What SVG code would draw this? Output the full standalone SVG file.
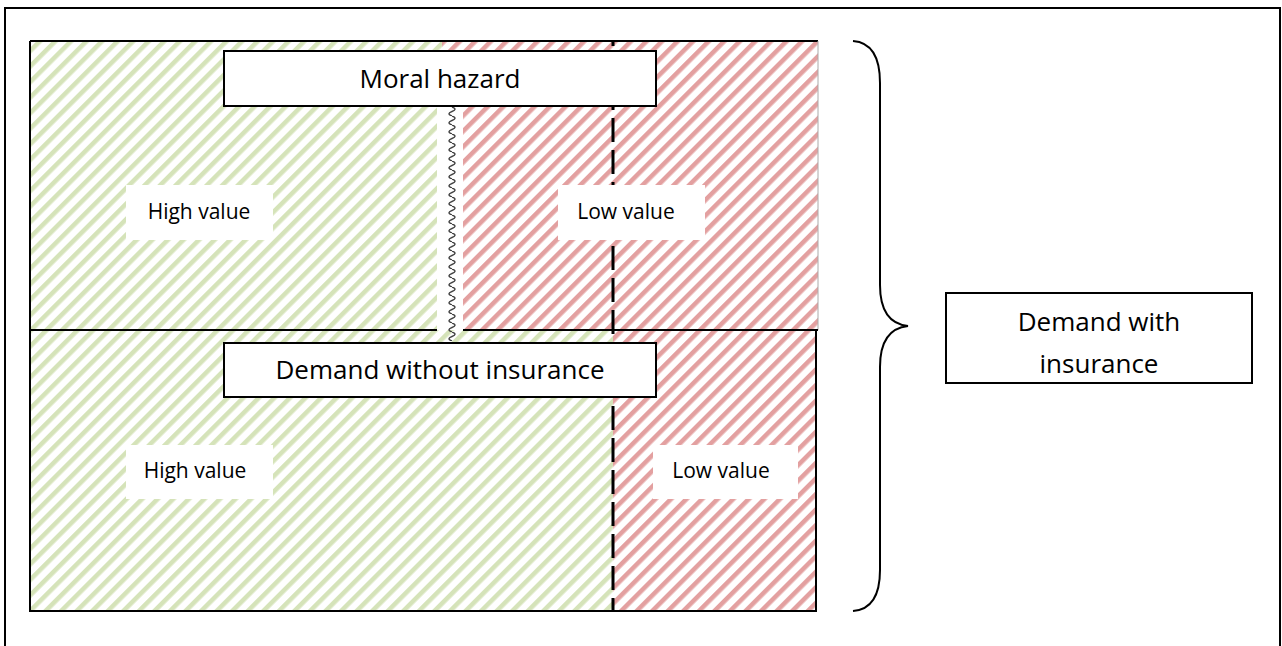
<svg xmlns="http://www.w3.org/2000/svg" width="1282" height="646" viewBox="0 0 1282 646">
<defs>
<pattern id="green" patternUnits="userSpaceOnUse" width="11" height="11" patternTransform="rotate(45)">
<rect x="0" y="0" width="4.6" height="11" fill="#d5e3b9"/>
</pattern>
<pattern id="red" patternUnits="userSpaceOnUse" width="11" height="11" patternTransform="rotate(45)">
<rect x="0" y="0" width="4.6" height="11" fill="#e3a0a0"/>
</pattern>
<pattern id="wave" patternUnits="userSpaceOnUse" x="446" y="107" width="12" height="9">
<path d="M6,0 Q12,2.25 6,4.5 Q0,6.75 6,9" fill="none" stroke="#444" stroke-width="1.5"/>
</pattern>
<style>
.box{fill:#fff;stroke:#000;stroke-width:2}
.lbl{fill:#fff;stroke:none}
.big{font-family:"Open Sans","Liberation Sans",sans-serif;font-size:26px;fill:#000;text-anchor:middle}
.small{font-family:"Open Sans","Liberation Sans",sans-serif;font-size:21px;fill:#000;text-anchor:middle}
</style>
</defs>
<rect width="1282" height="646" fill="#fff"/>
<rect x="5" y="8" width="1275" height="700" fill="none" stroke="#000" stroke-width="2"/>

<g id="areas">
<rect x="30" y="41" width="412" height="10" fill="url(#green)"/>
<rect x="442" y="41" width="376" height="10" fill="url(#red)"/>
<rect x="30" y="51" width="407" height="279" fill="url(#green)"/>
<rect x="437" y="51" width="26" height="279" fill="#fff"/>
<rect x="463" y="51" width="355" height="279" fill="url(#red)"/>
<rect x="30" y="330" width="583" height="281" fill="url(#green)"/>
<rect x="613" y="330" width="203" height="281" fill="url(#red)"/>
</g>

<g id="borders" fill="none">
<path d="M30,41 H818" stroke="#000" stroke-width="2"/>
<path d="M30,41 V611 H816 V330" stroke="#000" stroke-width="2"/>
<path d="M818,41 V330" stroke="#aaa" stroke-width="1"/>
<path d="M30,330 H437 M463,330 H818" stroke="#000" stroke-width="2"/>
</g>

<g id="connectors" fill="none">
<rect x="446" y="107" width="12" height="234" fill="url(#wave)"/>
<path d="M613,41 V611" stroke="#000" stroke-width="3" stroke-dasharray="24 8" stroke-dashoffset="-13"/>
<path d="M853,41 Q880,43 880,83 V285 Q880,323 908,326 Q880,329 880,367 V570 Q880,609 853,611" stroke="#000" stroke-width="2"/>
</g>

<g id="moral-hazard">
<rect class="box" x="224" y="51" width="432" height="55"/>
<text class="big" x="440" y="88">Moral hazard</text>
</g>
<g id="demand-without">
<rect class="box" x="224" y="343" width="432" height="54"/>
<text class="big" x="440" y="379">Demand without insurance</text>
</g>
<g id="demand-with">
<rect class="box" x="946" y="293" width="306" height="90"/>
<text class="big" x="1099" y="331">Demand with</text>
<text class="big" x="1099" y="373">insurance</text>
</g>
<g id="high-top">
<rect class="lbl" x="126" y="185" width="147" height="55"/>
<text class="small" x="199" y="219">High value</text>
</g>
<g id="low-top">
<rect class="lbl" x="558" y="185" width="147" height="55"/>
<text class="small" x="626" y="219">Low value</text>
</g>
<g id="high-bottom">
<rect class="lbl" x="126" y="445" width="147" height="54"/>
<text class="small" x="195" y="478">High value</text>
</g>
<g id="low-bottom">
<rect class="lbl" x="653" y="445" width="145" height="54"/>
<text class="small" x="721" y="478">Low value</text>
</g>
</svg>
